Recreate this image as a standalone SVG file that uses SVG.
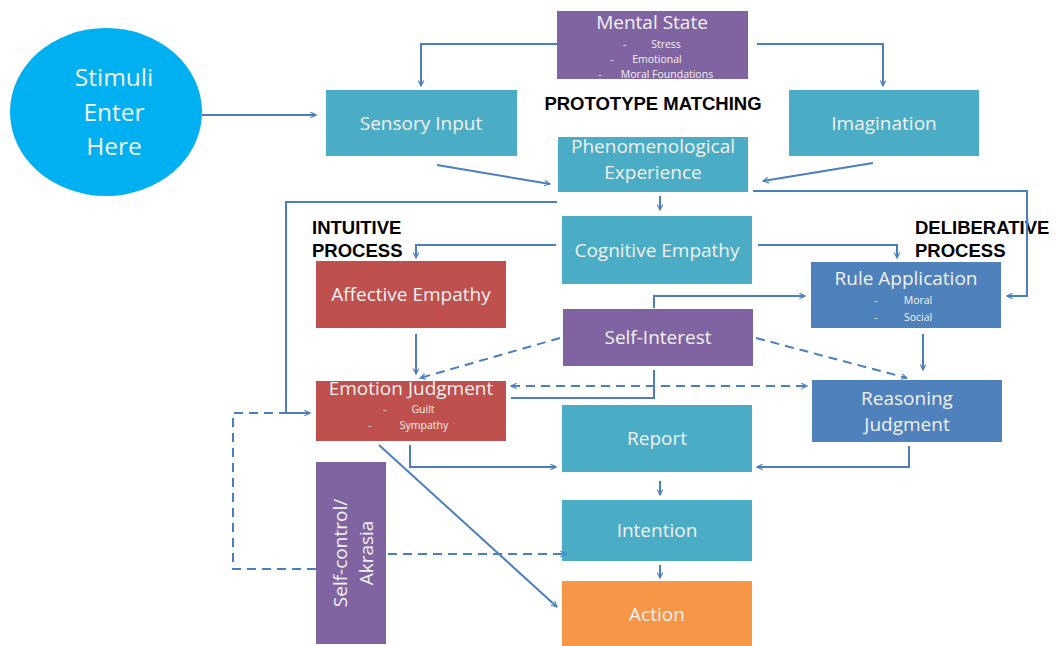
<svg xmlns="http://www.w3.org/2000/svg" width="1056" height="646" viewBox="0 0 1056 646">
  <style>
    .teal { fill: #4BACC6; }
    .purple { fill: #8064A2; }
    .red { fill: #C0504D; }
    .blue { fill: #4F81BD; }
    .orange { fill: #F79646; }
    .lbl { font-family: "Open Sans", "Noto Sans", sans-serif; fill: #F2F2F2; text-anchor: middle; }
    .big { font-size: 19px; }
    .small { font-size: 10.5px; }
    .head { font-family: "Liberation Sans", Arial, sans-serif; font-weight: bold; font-size: 18.5px; fill: #000; }
    .conn { fill: none; stroke: #4A7EBF; stroke-width: 2; }
    .dash { stroke-dasharray: 9 6; }
  </style>
  <defs>
    <marker id="arr" viewBox="0 0 10 10" refX="9" refY="5" markerWidth="7" markerHeight="7" markerUnits="userSpaceOnUse" orient="auto-start-reverse">
      <path d="M1,1 L9,5 L1,9" fill="none" stroke="#4A7EBF" stroke-width="1.6"/>
    </marker>
  </defs>
  <rect width="1056" height="646" fill="#FFFFFF"/>

  <!-- headings -->
  <text class="head" x="653" y="110" text-anchor="middle">PROTOTYPE MATCHING</text>
  <text class="head" x="312" y="234">INTUITIVE</text>
  <text class="head" x="312" y="257">PROCESS</text>
  <text class="head" x="915" y="234">DELIBERATIVE</text>
  <text class="head" x="915" y="257">PROCESS</text>

  <g id="stimuli">
    <ellipse cx="106" cy="112" rx="96" ry="84" fill="#00B0F0"/>
    <text class="lbl" x="114" y="86" font-size="24.5">Stimuli</text>
    <text class="lbl" x="114" y="121" font-size="24.5">Enter</text>
    <text class="lbl" x="114" y="155" font-size="24.5">Here</text>
  </g>

  <g id="mental-state">
    <rect class="purple" x="557" y="11" width="191" height="68"/>
    <text class="lbl big" x="652" y="29">Mental State</text>
    <text class="lbl small" x="625" y="48">-</text><text class="lbl small" x="666" y="48">Stress</text>
    <text class="lbl small" x="612" y="63">-</text><text class="lbl small" x="657" y="63">Emotional</text>
    <text class="lbl small" x="600" y="78">-</text><text class="lbl small" x="667" y="78">Moral Foundations</text>
  </g>

  <g id="sensory-input">
    <rect class="teal" x="326" y="90" width="191" height="66"/>
    <text class="lbl big" x="421" y="130">Sensory Input</text>
  </g>

  <g id="imagination">
    <rect class="teal" x="789" y="90" width="190" height="66"/>
    <text class="lbl big" x="884" y="130">Imagination</text>
  </g>

  <g id="phenomenological-experience">
    <rect class="teal" x="558" y="137" width="190" height="55"/>
    <text class="lbl big" x="653" y="153">Phenomenological</text>
    <text class="lbl big" x="653" y="179">Experience</text>
  </g>

  <g id="cognitive-empathy">
    <rect class="teal" x="562" y="216" width="190" height="68"/>
    <text class="lbl big" x="657" y="257">Cognitive Empathy</text>
  </g>

  <g id="affective-empathy">
    <rect class="red" x="316" y="261" width="190" height="67"/>
    <text class="lbl big" x="411" y="301">Affective Empathy</text>
  </g>

  <g id="rule-application">
    <rect class="blue" x="811" y="262" width="190" height="66"/>
    <text class="lbl big" x="906" y="285">Rule Application</text>
    <text class="lbl small" x="876" y="304">-</text><text class="lbl small" x="918" y="304">Moral</text>
    <text class="lbl small" x="876" y="321">-</text><text class="lbl small" x="918" y="321">Social</text>
  </g>

  <g id="self-interest">
    <rect class="purple" x="563" y="309" width="190" height="57"/>
    <text class="lbl big" x="658" y="344">Self-Interest</text>
  </g>

  <g id="emotion-judgment">
    <rect class="red" x="316" y="381" width="190" height="60"/>
    <text class="lbl big" x="411" y="395">Emotion Judgment</text>
    <text class="lbl small" x="385" y="413">-</text><text class="lbl small" x="423" y="413">Guilt</text>
    <text class="lbl small" x="370" y="429">-</text><text class="lbl small" x="424" y="429">Sympathy</text>
  </g>

  <g id="reasoning-judgment">
    <rect class="blue" x="812" y="380" width="190" height="62"/>
    <text class="lbl big" x="907" y="405">Reasoning</text>
    <text class="lbl big" x="907" y="431">Judgment</text>
  </g>

  <g id="report">
    <rect class="teal" x="562" y="405" width="190" height="67"/>
    <text class="lbl big" x="657" y="445">Report</text>
  </g>

  <g id="intention">
    <rect class="teal" x="562" y="500" width="190" height="61"/>
    <text class="lbl big" x="657" y="537">Intention</text>
  </g>

  <g id="action">
    <rect class="orange" x="562" y="581" width="190" height="65"/>
    <text class="lbl big" x="657" y="621">Action</text>
  </g>

  <g id="self-control">
    <rect class="purple" x="316" y="462" width="70" height="182"/>
    <text class="lbl big" transform="translate(347,553) rotate(-90)">Self-control/</text>
    <text class="lbl big" transform="translate(373,553) rotate(-90)">Akrasia</text>
  </g>

  <!-- connectors, drawn over the boxes so arrow tips stay visible -->
  <g id="connectors">
    <path class="conn" d="M202,115 L316,115" marker-end="url(#arr)"/>
    <path class="conn" d="M557,44 L421,44 L421,86" marker-end="url(#arr)"/>
    <path class="conn" d="M757,44 L883,44 L883,86" marker-end="url(#arr)"/>
    <path class="conn" d="M437,165 L550,184" marker-end="url(#arr)"/>
    <path class="conn" d="M873,163 L763,181" marker-end="url(#arr)"/>
    <path class="conn" d="M660,196 L660,210" marker-end="url(#arr)"/>
    <path class="conn" d="M557,202 L286,202 L286,413 L310,413" marker-end="url(#arr)"/>
    <path class="conn" d="M753,191 L1027,191 L1027,296 L1007,296" marker-end="url(#arr)"/>
    <path class="conn" d="M556,245 L416,245 L416,258" marker-end="url(#arr)"/>
    <path class="conn" d="M758,245 L897,245 L897,258" marker-end="url(#arr)"/>
    <path class="conn" d="M654,308 L654,296 L805,296" marker-end="url(#arr)"/>
    <path class="conn" d="M416,334 L416,374" marker-end="url(#arr)"/>
    <path class="conn dash" d="M560,338 L420,378" marker-end="url(#arr)"/>
    <path class="conn dash" d="M756,338 L907,378" marker-end="url(#arr)"/>
    <path class="conn" d="M923,334 L923,370" marker-end="url(#arr)"/>
    <path class="conn dash" d="M511,386 L807,386" marker-start="url(#arr)" marker-end="url(#arr)"/>
    <path class="conn" d="M511,398 L654,398 L654,370"/>
    <path class="conn" d="M410,445 L410,467 L556,467" marker-end="url(#arr)"/>
    <path class="conn" d="M909,446 L909,467 L757,467" marker-end="url(#arr)"/>
    <path class="conn" d="M660,481 L660,495" marker-end="url(#arr)"/>
    <path class="conn" d="M660,565 L660,578" marker-end="url(#arr)"/>
    <path class="conn" d="M379,445 L557,607" marker-end="url(#arr)"/>
    <path class="conn dash" d="M316,569 L233,569 L233,413 L286,413"/>
    <path class="conn dash" d="M388,554 L566,554" marker-end="url(#arr)"/>
  </g>
</svg>
